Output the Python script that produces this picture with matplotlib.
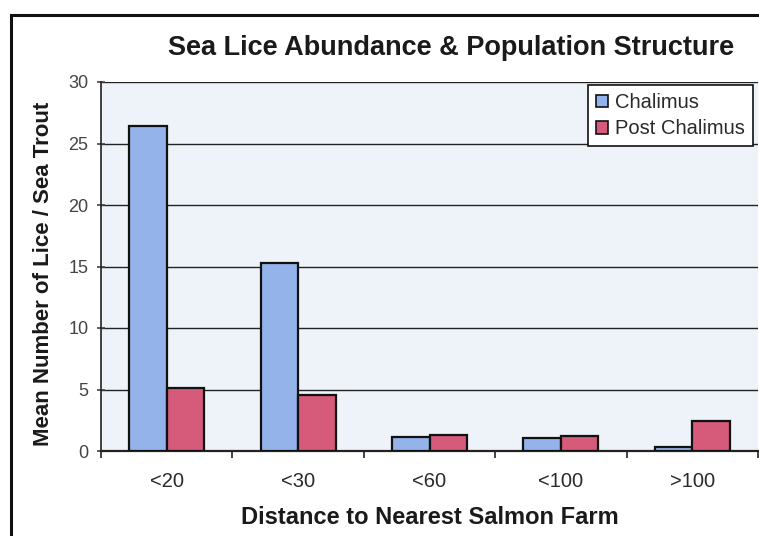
import matplotlib
matplotlib.use("Agg")
import matplotlib.pyplot as plt
import numpy as np
from matplotlib.patches import Rectangle

plt.rcParams['font.family'] = ['Liberation Sans', 'DejaVu Sans']

categories = ["<20", "<30", "<60", "<100", ">100"]
chalimus = [26.4, 15.3, 1.15, 1.05, 0.35]
post_chalimus = [5.1, 4.55, 1.3, 1.2, 2.4]
series_names = ["Chalimus", "Post Chalimus"]
yticks = [0, 5, 10, 15, 20, 25, 30]

blue = "#93b3ea"
pink = "#d65a7a"
plot_bg = "#eef2f9"
ink = "#1a1a1a"

fig = plt.figure(figsize=(7.59, 5.36), dpi=100)
fig.patch.set_facecolor("white")

# chart frame
fig.add_artist(Rectangle((11/759, -0.05), 1.0, 1 - 15/536 + 0.05,
                         transform=fig.transFigure, fill=False,
                         edgecolor="#111111", linewidth=2.2))

ax = fig.add_axes([101/759, 1 - 451/536, 657/759, (451 - 82)/536])
ax.set_facecolor(plot_bg)

x = np.arange(len(categories))
w = 1 / 3.5
ax.bar(x - w/2, chalimus, width=w, color=blue, edgecolor="#111111",
       linewidth=1.6, label=series_names[0], zorder=3)
ax.bar(x + w/2, post_chalimus, width=w, color=pink, edgecolor="#111111",
       linewidth=1.6, label=series_names[1], zorder=3)

ax.set_xlim(-0.5, len(categories) - 0.5)
ax.set_ylim(0, 30)
ax.set_yticks(yticks)
ax.yaxis.grid(True, color="#222222", linewidth=1.0, zorder=1)
ax.set_axisbelow(True)

ax.set_xticks(x)
ax.set_xticklabels(categories, fontsize=14.5, color="#2a2a2a")
ax.set_xticks(np.arange(len(categories) + 1) - 0.5, minor=True)
ax.tick_params(axis="x", which="major", length=0, pad=15)
ax.tick_params(axis="x", which="minor", length=5, width=1.2, direction="out", color="#222222")
ax.tick_params(axis="y", length=6, width=1.2, labelsize=13, colors="#444444", pad=6,
               direction="inout")

for s in ["top", "right"]:
    ax.spines[s].set_visible(False)
ax.spines["left"].set_color("#222222")
ax.spines["left"].set_linewidth(1.2)
ax.spines["bottom"].set_color("#222222")
ax.spines["bottom"].set_linewidth(1.6)

ax.set_ylabel("Mean Number of Lice / Sea Trout", fontsize=16, fontweight="bold",
              color=ink)
ax.yaxis.set_label_coords(-(101 - 44) / 657, 0.48)
ax.set_xlabel("Distance to Nearest Salmon Farm", fontsize=17, fontweight="bold",
              color=ink)
ax.xaxis.set_label_coords(0.5, -(518 - 451) / 369)
ax.xaxis.label.set_va("center")
ax.yaxis.label.set_va("center")

fig.text(451/759, 1 - 48/536, "Sea Lice Abundance & Population Structure",
         ha="center", va="center", fontsize=19.5, fontweight="bold", color=ink)

handles = [Rectangle((0, 0), 1, 1, facecolor=blue, edgecolor="#111111", linewidth=1.2),
           Rectangle((0, 0), 1, 1, facecolor=pink, edgecolor="#111111", linewidth=1.2)]
leg = ax.legend(handles, series_names, loc="upper right", bbox_to_anchor=(0.996, 0.997),
                fontsize=14.5, frameon=True, fancybox=False, handlelength=0.6,
                handleheight=0.6, handletextpad=0.35, borderpad=0.4, labelspacing=0.35,
                borderaxespad=0.1)
leg.get_frame().set_edgecolor("#111111")
leg.get_frame().set_linewidth(1.2)
leg.get_frame().set_facecolor("white")
leg.get_frame().set_alpha(1)
for t in leg.get_texts():
    t.set_color("#2a2a2a")

fig.savefig("out.png", dpi=100)
